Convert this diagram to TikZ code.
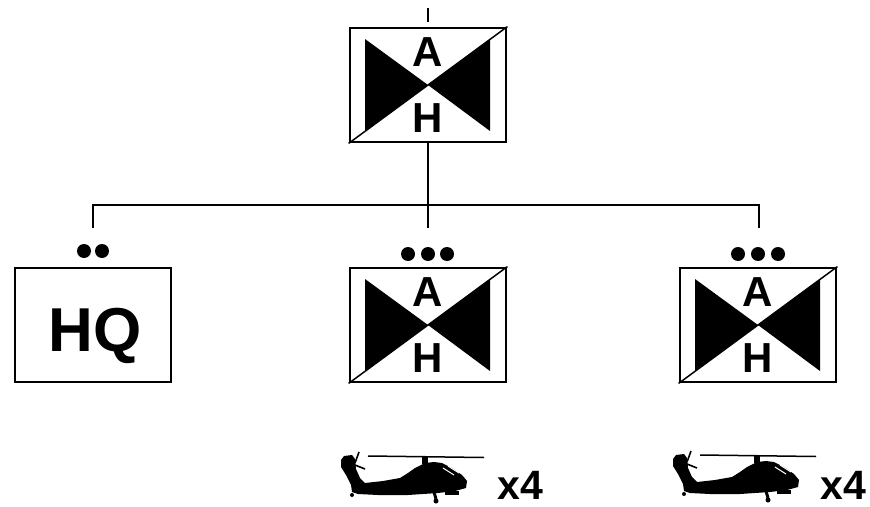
\documentclass[tikz,border=0pt]{standalone}
\usepackage{fontspec}
\setmainfont{Liberation Sans}
\usetikzlibrary{calc}
\tikzset{
  unitbox/.style={draw, line width=2.8pt, minimum width=156pt, minimum height=114pt, inner sep=0pt},
  lbl/.style={font=\fontsize{42}{42}\selectfont\bfseries, inner sep=0pt, anchor=base},
  hqlbl/.style={font=\fontsize{62}{62}\selectfont\bfseries, inner sep=0pt, anchor=base},
  cntlbl/.style={font=\fontsize{41}{41}\selectfont\bfseries, inner sep=0pt, anchor=base west},
  echdot/.style={circle, fill, inner sep=0pt, minimum size=14pt},
  conn/.style={line width=2pt},
  heli/.pic={
    \fill (6,11) -- (14,10) -- (17,14) -- (18,24) -- (22,33) -- (27,38) -- (45,36) -- (62,33) -- (70,28)
      -- (77,23) -- (87,18) -- (96,17) -- (104,18) -- (114,23) -- (124,30) -- (129,36) -- (128,43)
      -- (117,46) -- (100,48) -- (70,50) -- (40,50) -- (20,49) -- (14,47) -- (13,40) -- (8,30)
      -- (3,22) -- (3,15) -- cycle;
    \draw[white, line width=1pt] (105,23) -- (116,30);
    \draw[white, line width=1pt] (110,21) -- (121,28);
    \draw[line width=1.5pt] (30,11) -- (146,12.5);
    \fill (84,12) rectangle (90,19);
    \draw[line width=1.6pt] (21,7) -- (17,18);
    \draw[line width=1.6pt] (17,20) -- (27,24);
    \draw[line width=3pt] (96,47) -- (98,54);
    \fill (98,56) circle (2.5);
    \fill (14,50) circle (2);
    \fill (107,46) rectangle (121,50);
  }
}
\newcommand\ahmark[1]{%
  \fill ($(#1.center)+(-63,-46)$) -- ($(#1.center)+(-63,46)$) -- (#1.center) -- cycle;
  \fill ($(#1.center)+(62,-46)$) -- ($(#1.center)+(62,46)$) -- (#1.center) -- cycle;
  \draw[line width=1.5pt] (#1.south west) -- (#1.north east);
  \node[lbl] (#1A) at ($(#1.center)+(0,-19)$) {A};
  \node[lbl] (#1H) at ($(#1.center)+(0,47)$) {H};
}
\begin{document}
\begin{tikzpicture}[x=1pt, y=-1pt]
  \useasboundingbox[fill=white] (0,0) rectangle (870,506);
  % boxes
  \node[unitbox] (top) at (428,85) {};
  \node[unitbox] (hq) at (93,325) {};
  \node[unitbox] (mid) at (428,325) {};
  \node[unitbox] (rgt) at (758,325) {};
  \ahmark{top}
  \ahmark{mid}
  \ahmark{rgt}
  \node[hqlbl] (hqtext) at (95,351) {HQ};
  % echelon dots
  \node[echdot] (hqd1) at (84,251) {};
  \node[echdot] (hqd2) at (102,251) {};
  \node[echdot] (md1) at (408,254) {};
  \node[echdot] (md2) at (428,254) {};
  \node[echdot] (md3) at (447,254) {};
  \node[echdot] (rd1) at (738,254) {};
  \node[echdot] (rd2) at (758,254) {};
  \node[echdot] (rd3) at (778,254) {};
  % connectors
  \coordinate (tick1) at (428,8);
  \coordinate (tick2) at (428,22);
  \coordinate (jc) at (428,205);
  \coordinate (jl) at (93,205);
  \coordinate (jr) at (759,205);
  \coordinate (dl) at (93,228);
  \coordinate (dm) at (428,228);
  \coordinate (dr) at (759,228);
  \draw[conn] (tick1) -- (tick2);
  \draw[conn] (top.south) -- (jc);
  \draw[conn] (dl) -- (jl) -- (jr) -- (dr);
  \draw[conn] (jc) -- (dm);
  % helicopters
  \pic at (338,445) {heli};
  \pic at (670,444) {heli};
  \node[cntlbl] (cnt1) at (497,499) {x4};
  \node[cntlbl] (cnt2) at (820,499) {x4};
\end{tikzpicture}
\end{document}
